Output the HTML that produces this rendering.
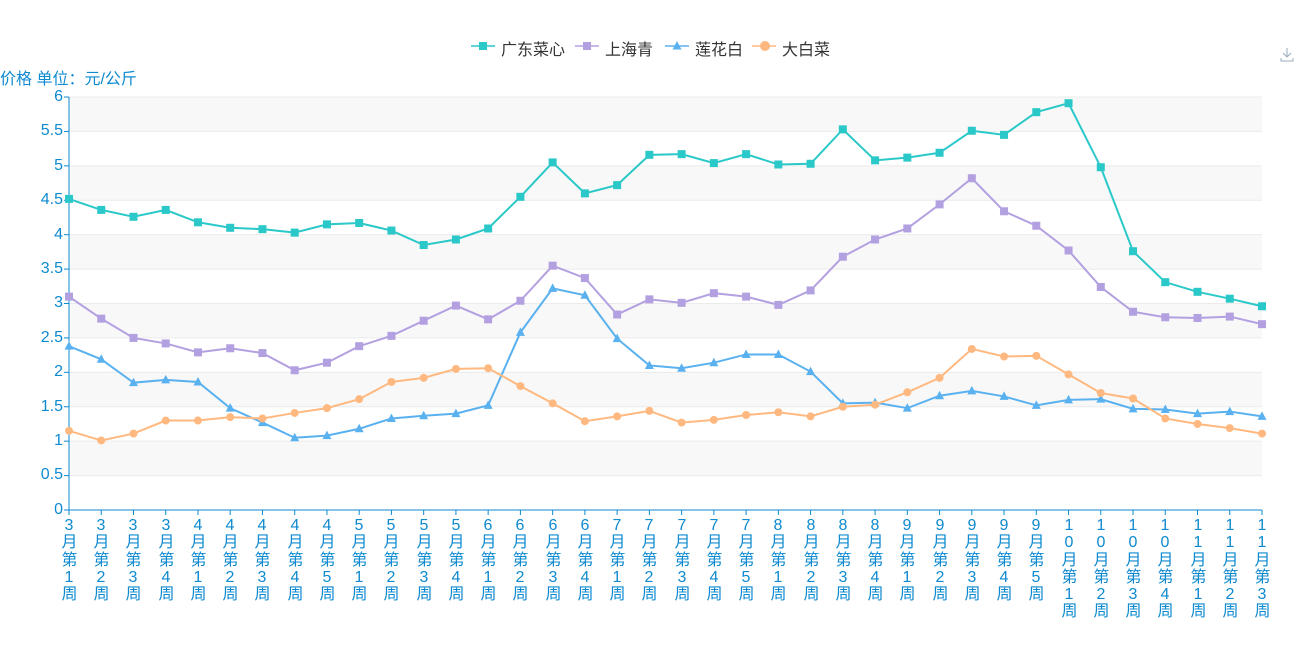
<!DOCTYPE html>
<html><head><meta charset="utf-8"><style>
body{margin:0;width:1300px;height:650px;background:#fff;overflow:hidden;position:relative;font-family:"Liberation Sans","Noto Sans CJK SC",sans-serif}
.xl{position:absolute;top:517px;width:15px;margin-left:-7.5px;text-align:center;font-size:16px;line-height:17.3px;color:#0e8ad0;word-break:break-all}
.yl{position:absolute;right:1237px;font-size:16px;color:#0e8ad0;line-height:16px}
.lg{position:absolute;top:36px;font-size:16px;color:#333}
</style></head><body>
<svg id="s" width="1300" height="650" style="position:absolute;left:0;top:0"></svg>
<div style="position:absolute;left:0;top:65px;font-size:16px;color:#0e8ad0">价格 单位：元/公斤</div>
<div class="lg" style="left:501px">广东菜心</div>
<div class="lg" style="left:605px">上海青</div>
<div class="lg" style="left:695px">莲花白</div>
<div class="lg" style="left:782px">大白菜</div>
<div class="yl" style="top:89px">6</div><div class="yl" style="top:123px">5.5</div><div class="yl" style="top:158px">5</div><div class="yl" style="top:192px">4.5</div><div class="yl" style="top:227px">4</div><div class="yl" style="top:261px">3.5</div><div class="yl" style="top:295px">3</div><div class="yl" style="top:330px">2.5</div><div class="yl" style="top:364px">2</div><div class="yl" style="top:399px">1.5</div><div class="yl" style="top:433px">1</div><div class="yl" style="top:467px">0.5</div><div class="yl" style="top:502px">0</div>
<div class="xl" style="left:69px">3月第1周</div><div class="xl" style="left:101px">3月第2周</div><div class="xl" style="left:133px">3月第3周</div><div class="xl" style="left:166px">3月第4周</div><div class="xl" style="left:198px">4月第1周</div><div class="xl" style="left:230px">4月第2周</div><div class="xl" style="left:262px">4月第3周</div><div class="xl" style="left:295px">4月第4周</div><div class="xl" style="left:327px">4月第5周</div><div class="xl" style="left:359px">5月第1周</div><div class="xl" style="left:391px">5月第2周</div><div class="xl" style="left:424px">5月第3周</div><div class="xl" style="left:456px">5月第4周</div><div class="xl" style="left:488px">6月第1周</div><div class="xl" style="left:520px">6月第2周</div><div class="xl" style="left:553px">6月第3周</div><div class="xl" style="left:585px">6月第4周</div><div class="xl" style="left:617px">7月第1周</div><div class="xl" style="left:649px">7月第2周</div><div class="xl" style="left:682px">7月第3周</div><div class="xl" style="left:714px">7月第4周</div><div class="xl" style="left:746px">7月第5周</div><div class="xl" style="left:778px">8月第1周</div><div class="xl" style="left:811px">8月第2周</div><div class="xl" style="left:843px">8月第3周</div><div class="xl" style="left:875px">8月第4周</div><div class="xl" style="left:907px">9月第1周</div><div class="xl" style="left:940px">9月第2周</div><div class="xl" style="left:972px">9月第3周</div><div class="xl" style="left:1004px">9月第4周</div><div class="xl" style="left:1036px">9月第5周</div><div class="xl" style="left:1069px">10月第1周</div><div class="xl" style="left:1101px">10月第2周</div><div class="xl" style="left:1133px">10月第3周</div><div class="xl" style="left:1165px">10月第4周</div><div class="xl" style="left:1198px">11月第1周</div><div class="xl" style="left:1230px">11月第2周</div><div class="xl" style="left:1262px">11月第3周</div>
<script>
var s=document.getElementById('s'),h='';
var X0=69,X1=1262,Y0=510,K=68.83,dx=(X1-X0)/37;
function y(v){return Y0-v*K}
for(var i=0;i<12;i++){var v=i*0.5;
 if(i%2==1)h+='<rect x="'+X0+'" y="'+y(v+0.5)+'" width="'+(X1-X0)+'" height="'+(K/2)+'" fill="#f8f8f8"/>';}
for(var i=1;i<=12;i++)h+='<line x1="'+X0+'" x2="'+X1+'" y1="'+y(i*0.5)+'" y2="'+y(i*0.5)+'" stroke="#ebebeb"/>';
h+='<line x1="'+X0+'" x2="'+X0+'" y1="97" y2="510" stroke="#0e8ad0"/><line x1="'+X0+'" x2="'+X1+'" y1="510" y2="510" stroke="#0e8ad0"/>';
for(var i=0;i<=12;i++)h+='<line x1="'+(X0-5)+'" x2="'+X0+'" y1="'+y(i*0.5)+'" y2="'+y(i*0.5)+'" stroke="#0e8ad0"/>';
for(var i=0;i<38;i++)h+='<line x1="'+(X0+i*dx)+'" x2="'+(X0+i*dx)+'" y1="510" y2="515" stroke="#0e8ad0"/>';
var D=[
['#2ac8c8','sq',[4.52,4.36,4.26,4.36,4.18,4.10,4.08,4.03,4.15,4.17,4.06,3.85,3.93,4.09,4.55,5.05,4.60,4.72,5.16,5.17,5.04,5.17,5.02,5.03,5.53,5.08,5.12,5.19,5.51,5.45,5.78,5.91,4.98,3.76,3.31,3.17,3.07,2.96]],
['#b3a0e0','sq',[3.10,2.78,2.50,2.42,2.29,2.35,2.28,2.03,2.14,2.38,2.53,2.75,2.97,2.77,3.04,3.55,3.37,2.84,3.06,3.01,3.15,3.10,2.98,3.19,3.68,3.93,4.09,4.44,4.82,4.34,4.13,3.77,3.24,2.88,2.80,2.79,2.81,2.70]],
['#5ab1ef','tri',[2.38,2.19,1.85,1.89,1.86,1.48,1.27,1.05,1.08,1.18,1.33,1.37,1.40,1.52,2.58,3.22,3.12,2.49,2.10,2.06,2.14,2.26,2.26,2.01,1.55,1.56,1.48,1.66,1.73,1.65,1.52,1.60,1.61,1.47,1.46,1.40,1.43,1.36]],
['#ffb980','ci',[1.15,1.01,1.11,1.30,1.30,1.35,1.33,1.41,1.48,1.61,1.86,1.92,2.05,2.06,1.80,1.55,1.29,1.36,1.44,1.27,1.31,1.38,1.42,1.36,1.50,1.53,1.71,1.92,2.34,2.23,2.24,1.97,1.70,1.62,1.33,1.25,1.19,1.11]]];
function mk(t,c,x,yy){if(t=='sq')return '<rect x="'+(x-4)+'" y="'+(yy-4)+'" width="8" height="8" fill="'+c+'"/>';
 if(t=='tri')return '<polygon points="'+x+','+(yy-5)+' '+(x-4.5)+','+(yy+3.5)+' '+(x+4.5)+','+(yy+3.5)+'" fill="'+c+'"/>';
 return '<circle cx="'+x+'" cy="'+yy+'" r="4" fill="'+c+'"/>';}
D.forEach(function(d){var p=d[2].map(function(v,i){return (X0+i*dx)+','+y(v)}).join(' ');
 h+='<polyline points="'+p+'" fill="none" stroke="'+d[0]+'" stroke-width="2"/>';
 d[2].forEach(function(v,i){h+=mk(d[1],d[0],X0+i*dx,y(v))});});
var L=[[483,0],[587,1],[677,2],[764,3]];
L.forEach(function(l){var d=D[l[1]];h+='<line x1="'+(l[0]-12)+'" x2="'+(l[0]+12)+'" y1="46" y2="46" stroke="'+d[0]+'" stroke-width="1.5"/>'+mk(d[1],d[0],l[0],46).replace(/4"/g,'5"');});
h+='<path d="M1287 48v8M1283 53l4 4 4-4M1281 58v3h12v-3" fill="none" stroke="#9ab" stroke-width="1"/>';
s.innerHTML=h;
</script>
</body></html>
